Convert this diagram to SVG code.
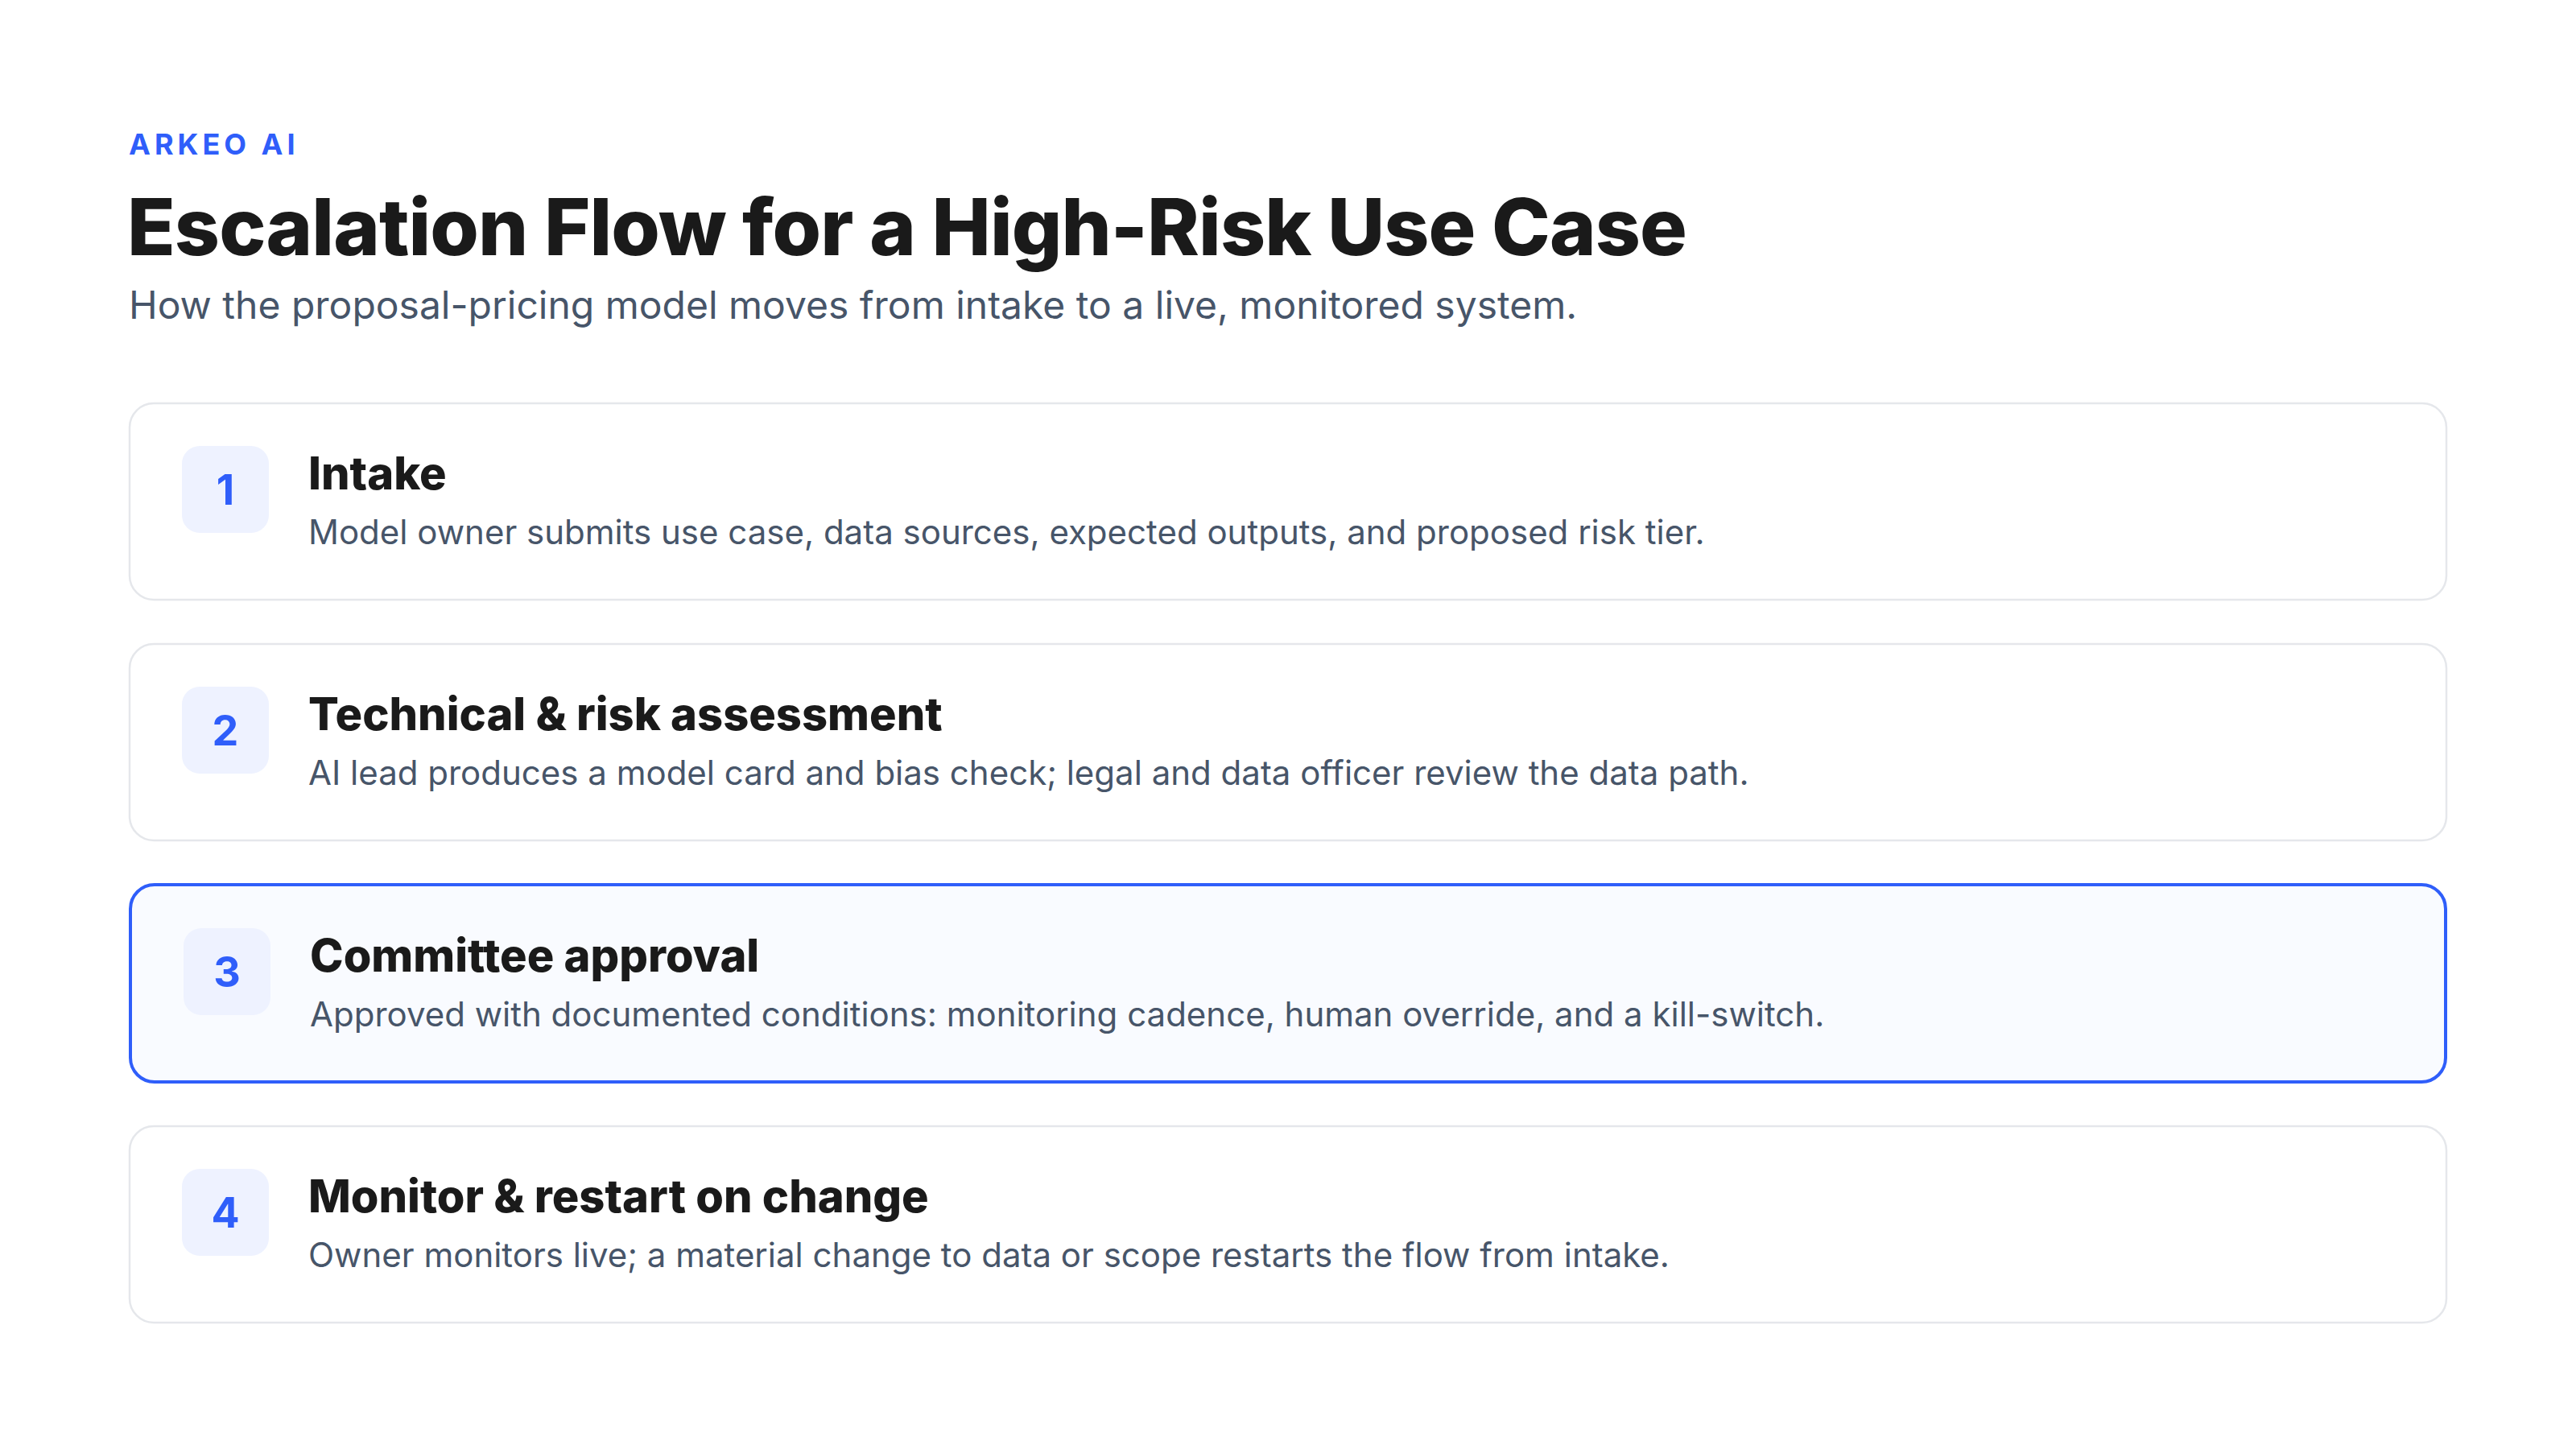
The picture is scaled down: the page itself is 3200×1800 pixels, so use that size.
<svg xmlns="http://www.w3.org/2000/svg" width="3200" height="1800" viewBox="0 0 3200 1800">
<style>
.bg{fill:#ffffff}
.card{fill:#ffffff;stroke:#E5E7EB;stroke-width:2.5}
.card.active{fill:#F9FBFF;stroke:#2F5EFA;stroke-width:4}
.badge{fill:#EEF2FF}
.num{font-family:Inter,"Liberation Sans",sans-serif;font-weight:700;font-size:52px;fill:#2F5EFA;text-anchor:middle}
.ttl{font-family:Inter,"Liberation Sans",sans-serif;font-weight:800;font-size:56px;fill:#1A1A1A}
.desc{font-family:Inter,"Liberation Sans",sans-serif;font-weight:400;font-size:42px;fill:#475569}
.brand{font-family:Inter,"Liberation Sans",sans-serif;font-weight:700;font-size:36px;fill:#2F5EFA;letter-spacing:5px}
.h1{font-family:Inter,"Liberation Sans",sans-serif;font-weight:800;font-size:98px;fill:#1A1A1A;letter-spacing:-0.9px}
.sub{font-family:Inter,"Liberation Sans",sans-serif;font-weight:400;font-size:48px;fill:#475569}
</style>
<rect class="bg" x="0" y="0" width="3200" height="1800"/>
<g id="header">
<text class="brand" x="160" y="192">ARKEO AI</text>
<text class="h1" x="158" y="317">Escalation Flow for a High-Risk Use Case</text>
<text class="sub" x="160" y="396">How the proposal-pricing model moves from intake to a live, monitored system.</text>
</g>
<g id="connectors"></g>
<g id="step1">
<rect class="card" x="161" y="501" width="2878" height="244" rx="30"/>
<rect class="badge" x="226" y="554" width="108" height="108" rx="22"/>
<text class="num" x="280" y="627">1</text>
<text class="ttl" x="383" y="608">Intake</text>
<text class="desc" x="383" y="676">Model owner submits use case, data sources, expected outputs, and proposed risk tier.</text>
</g>
<g id="step2">
<rect class="card" x="161" y="800" width="2878" height="244" rx="30"/>
<rect class="badge" x="226" y="853" width="108" height="108" rx="22"/>
<text class="num" x="280" y="926">2</text>
<text class="ttl" x="383" y="907">Technical &amp; risk assessment</text>
<text class="desc" x="383" y="975">AI lead produces a model card and bias check; legal and data officer review the data path.</text>
</g>
<g id="step3">
<rect class="card active" x="162" y="1099" width="2876" height="245" rx="30"/>
<rect class="badge" x="228" y="1153" width="108" height="108" rx="22"/>
<text class="num" x="282" y="1226">3</text>
<text class="ttl" x="385" y="1207">Committee approval</text>
<text class="desc" x="385" y="1275">Approved with documented conditions: monitoring cadence, human override, and a kill-switch.</text>
</g>
<g id="step4">
<rect class="card" x="161" y="1399" width="2878" height="244" rx="30"/>
<rect class="badge" x="226" y="1452" width="108" height="108" rx="22"/>
<text class="num" x="280" y="1525">4</text>
<text class="ttl" x="383" y="1506">Monitor &amp; restart on change</text>
<text class="desc" x="383" y="1574">Owner monitors live; a material change to data or scope restarts the flow from intake.</text>
</g>
</svg>
